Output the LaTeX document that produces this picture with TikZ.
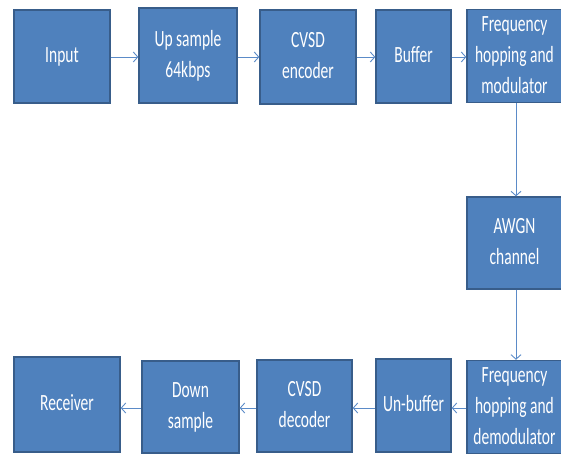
\documentclass[tikz,border=0pt]{standalone}
\usepackage{fontspec}
\setmainfont{Carlito}
\usetikzlibrary{arrows.meta}
\definecolor{boxfill}{HTML}{4F81BD}
\definecolor{boxline}{HTML}{385D8A}
\definecolor{arrowc}{HTML}{5B8BC8}
\newcommand{\blocktext}[1]{\scalebox{1}[1.5]{\fontsize{15.5}{20.7}\selectfont\begin{tabular}{@{}c@{}}#1\end{tabular}}}
\tikzset{
  blockbox/.style={draw=boxline, line width=1.3pt, fill=boxfill, text=white, inner sep=0pt, anchor=center},
  conn/.style={draw=arrowc, line width=0.9pt, -{Straight Barb[length=4.5pt,width=10pt]}}
}
\begin{document}
\begin{tikzpicture}[x=1pt,y=1pt]
\useasboundingbox (0,0) rectangle (561,455);
\begin{scope}
\clip (0,0) rectangle (561,455);
% top row (y = 455 - image y)
\node[blockbox, minimum width=96pt, minimum height=93pt] (input) at (62,398.5) {\blocktext{Input}};
\node[blockbox, minimum width=98pt, minimum height=95pt] (up) at (188,399.5) {\blocktext{Up sample\\64kbps}};
\node[blockbox, minimum width=96pt, minimum height=94pt] (enc) at (308,398) {\blocktext{CVSD\\encoder}};
\node[blockbox, minimum width=75pt, minimum height=93pt] (buf) at (413.5,398.5) {\blocktext{Buffer}};
\node[blockbox, minimum width=95pt, minimum height=92pt] (mod) at (514.5,399) {\blocktext{Frequency\\hopping and\\modulator}};
% middle
\node[blockbox, minimum width=95pt, minimum height=92pt] (awgn) at (514.5,212) {\blocktext{AWGN\\channel}};
% bottom row
\node[blockbox, minimum width=95pt, minimum height=90pt] (demod) at (514.5,48) {\blocktext{Frequency\\hopping and\\demodulator}};
\node[blockbox, minimum width=75pt, minimum height=93pt] (unbuf) at (413.5,49.5) {\blocktext{Un-buffer}};
\node[blockbox, minimum width=95pt, minimum height=92pt] (dec) at (304.5,49) {\blocktext{CVSD\\decoder}};
\node[blockbox, minimum width=97pt, minimum height=92pt] (down) at (190.5,48) {\blocktext{Down\\sample}};
\node[blockbox, minimum width=106pt, minimum height=95pt] (recv) at (67,50.5) {\blocktext{Receiver}};
\end{scope}
% connectors
\draw[conn] (input.east |- 0,398) -- (up.west |- 0,398);
\draw[conn] (up.east |- 0,398) -- (enc.west |- 0,398);
\draw[conn] (enc.east |- 0,398) -- (buf.west |- 0,398);
\draw[conn] (buf.east |- 0,398) -- (mod.west |- 0,398);
\draw[conn] (mod.south -| 516,0) -- (awgn.north -| 516,0);
\draw[conn] (awgn.south -| 516,0) -- (demod.north -| 516,0);
\draw[conn] (demod.west |- 0,47) -- (unbuf.east |- 0,47);
\draw[conn] (unbuf.west |- 0,47) -- (dec.east |- 0,47);
\draw[conn] (dec.west |- 0,47) -- (down.east |- 0,47);
\draw[conn] (down.west |- 0,47) -- (recv.east |- 0,47);
\end{tikzpicture}
\end{document}
